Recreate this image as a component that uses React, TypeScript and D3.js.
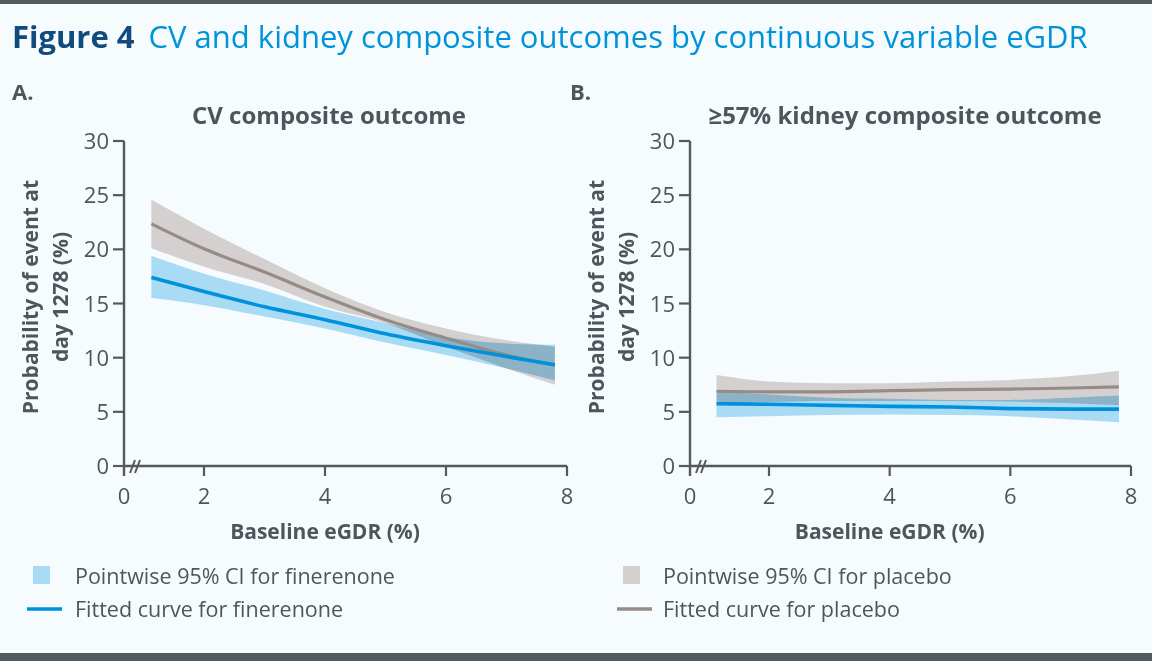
import React from 'react';
import * as d3 from 'd3';

// eGDR sample points along the fitted curves
const eGDR = [1.13, 2, 3, 4, 5, 6, 7, 7.8];

// A. CV composite outcome
const cvFinFit = [17.4, 16.1, 14.7, 13.5, 12.2, 11.1, 10.1, 9.35];
const cvFinLo = [15.5, 14.85, 13.8, 12.7, 11.4, 10.25, 9.0, 7.9];
const cvFinHi = [19.4, 17.75, 16.2, 14.5, 13.2, 11.9, 11.3, 11.2];
const cvPboFit = [22.35, 20.05, 17.9, 15.6, 13.5, 11.8, 10.25, 9.3];
const cvPboLo = [20.1, 18.4, 16.8, 14.7, 13.2, 11.0, 9.0, 7.5];
const cvPboHi = [24.6, 21.9, 19.1, 16.4, 14.2, 12.7, 11.6, 11.0];

// B. >=57% kidney composite outcome
const kdFinFit = [5.75, 5.7, 5.6, 5.5, 5.45, 5.3, 5.25, 5.25];
const kdFinLo = [4.5, 4.6, 4.7, 4.75, 4.7, 4.6, 4.3, 4.05];
const kdFinHi = [6.9, 6.6, 6.3, 6.2, 6.1, 6.1, 6.3, 6.5];
const kdPboFit = [6.9, 6.85, 6.85, 6.95, 7.05, 7.1, 7.2, 7.3];
const kdPboLo = [5.8, 5.9, 6.0, 6.0, 6.0, 5.95, 5.8, 5.6];
const kdPboHi = [8.4, 7.8, 7.65, 7.65, 7.8, 7.95, 8.3, 8.8];

const yTicks = [0, 5, 10, 15, 20, 25, 30];
const xTicks = [2, 4, 6, 8];

const FONT = '"Open Sans", "Noto Sans", sans-serif';
const TXT = '#50555b';
const AXIS = '#55595e';
const BLUE = '#0091dc';
const BLUE_CI = '#a9dbf5';
const GREY = '#978b87';
const GREY_CI = '#d4d0cf';
const BG = '#f6fbfe';

interface PanelProps {
  letter: string;
  letterX: number;
  title: string;
  titleX: number;
  axisX: number;
  x2: number;
  x8: number;
  finFit: number[];
  finLo: number[];
  finHi: number[];
  pboFit: number[];
  pboLo: number[];
  pboHi: number[];
}

const Panel: React.FC<PanelProps> = ({ letter, letterX, title, titleX, axisX, x2, x8, finFit, finLo, finHi, pboFit, pboLo, pboHi }) => {
  const x = d3.scaleLinear().domain([2, 8]).range([x2, x8]);
  const y = d3.scaleLinear().domain([0, 30]).range([466, 141]);
  const idx = eGDR.map((_, i) => i);

  const band = (lo: number[], hi: number[]) =>
    d3.area<number>()
      .x(i => x(eGDR[i]))
      .y0(i => y(lo[i]))
      .y1(i => y(hi[i]))
      .curve(d3.curveMonotoneX)(idx) || '';
  const line = (v: number[]) =>
    d3.line<number>()
      .x(i => x(eGDR[i]))
      .y(i => y(v[i]))
      .curve(d3.curveMonotoneX)(idx) || '';

  const y0 = y(0);

  return (
    <g>
      <text x={letterX} y={100} fontSize={22} fontWeight={700} fill={TXT} fontFamily={FONT}>{letter}</text>
      <text x={titleX} y={124} fontSize={24} fontWeight={700} fill={TXT} fontFamily={FONT} textAnchor="middle">{title}</text>

      {/* confidence bands */}
      <g style={{ isolation: 'isolate' }}>
        <path d={band(finLo, finHi)} fill={BLUE_CI} style={{ mixBlendMode: 'multiply' }} />
        <path d={band(pboLo, pboHi)} fill={GREY_CI} style={{ mixBlendMode: 'multiply' }} />
      </g>
      <path d={line(pboFit)} fill="none" stroke={GREY} strokeWidth={3.2} />
      <path d={line(finFit)} fill="none" stroke={BLUE} strokeWidth={3.6} />

      {/* y axis */}
      <line x1={axisX} x2={axisX} y1={y(30)} y2={y0 + 10} stroke={AXIS} strokeWidth={2.4} />
      {yTicks.map(t => (
        <g key={t}>
          <line x1={axisX - 11} x2={axisX} y1={y(t)} y2={y(t)} stroke={AXIS} strokeWidth={2.2} />
          <text x={axisX - 15} y={y(t) + 8} fontSize={22} fill={TXT} fontFamily={FONT} textAnchor="end">{t}</text>
        </g>
      ))}

      {/* x axis with break */}
      <line x1={axisX} x2={x8} y1={y0} y2={y0} stroke={AXIS} strokeWidth={2.4} />
      <line x1={axisX + 6} x2={axisX + 11} y1={y0 + 7} y2={y0 - 6} stroke={AXIS} strokeWidth={2} />
      <line x1={axisX + 11} x2={axisX + 16} y1={y0 + 7} y2={y0 - 6} stroke={AXIS} strokeWidth={2} />
      <text x={axisX} y={y0 + 38} fontSize={22} fill={TXT} fontFamily={FONT} textAnchor="middle">0</text>
      {xTicks.map(t => (
        <g key={t}>
          <line x1={x(t)} x2={x(t)} y1={y0} y2={y0 + 10} stroke={AXIS} strokeWidth={2.2} />
          <text x={x(t)} y={y0 + 38} fontSize={22} fill={TXT} fontFamily={FONT} textAnchor="middle">{t}</text>
        </g>
      ))}

      <text x={x(4)} y={539} fontSize={21} fontWeight={700} fill={TXT} fontFamily={FONT} textAnchor="middle">Baseline eGDR (%)</text>
      <text transform={`translate(${axisX - 79},297) rotate(-90)`} fontSize={21} fontWeight={700} fill={TXT} fontFamily={FONT} textAnchor="middle">
        <tspan x={0} y={-7}>Probability of event at</tspan>
        <tspan x={0} y={23}>day 1278 (%)</tspan>
      </text>
    </g>
  );
};

export default function App() {
  return (
    <svg width={1152} height={661} style={{ position: 'absolute', left: 0, top: 0, background: BG }}>
      <rect x={0} y={0} width={1152} height={661} fill={BG} />
      <rect x={0} y={0} width={1152} height={4} fill="#555a5e" />
      <rect x={0} y={653} width={1152} height={8} fill="#555a5e" />

      <text x={12} y={48} fontSize={31} fontFamily={FONT}>
        <tspan fontWeight={700} fill="#114a7d">Figure 4</tspan>
        <tspan dx={14} fill="#0093d8">CV and kidney composite outcomes by continuous variable eGDR</tspan>
      </text>

      <Panel letter="A." letterX={12} title="CV composite outcome" titleX={329} axisX={124} x2={204} x8={567}
        finFit={cvFinFit} finLo={cvFinLo} finHi={cvFinHi} pboFit={cvPboFit} pboLo={cvPboLo} pboHi={cvPboHi} />
      <Panel letter="B." letterX={570} title="≥57% kidney composite outcome" titleX={905} axisX={690} x2={769} x8={1131}
        finFit={kdFinFit} finLo={kdFinLo} finHi={kdFinHi} pboFit={kdPboFit} pboLo={kdPboLo} pboHi={kdPboHi} />

      {/* legend */}
      <g fontFamily={FONT} fontSize={21.5} fill={TXT}>
        <rect x={33} y={566} width={17} height={18} fill={BLUE_CI} />
        <text x={75} y={584}>Pointwise 95% CI for finerenone</text>
        <line x1={27} x2={62} y1={609} y2={609} stroke={BLUE} strokeWidth={3.5} />
        <text x={75} y={617}>Fitted curve for finerenone</text>

        <rect x={623} y={566} width={17} height={18} fill={GREY_CI} />
        <text x={663} y={584}>Pointwise 95% CI for placebo</text>
        <line x1={617} x2={652} y1={609} y2={609} stroke={GREY} strokeWidth={3.5} />
        <text x={663} y={617}>Fitted curve for placebo</text>
      </g>
    </svg>
  );
}
